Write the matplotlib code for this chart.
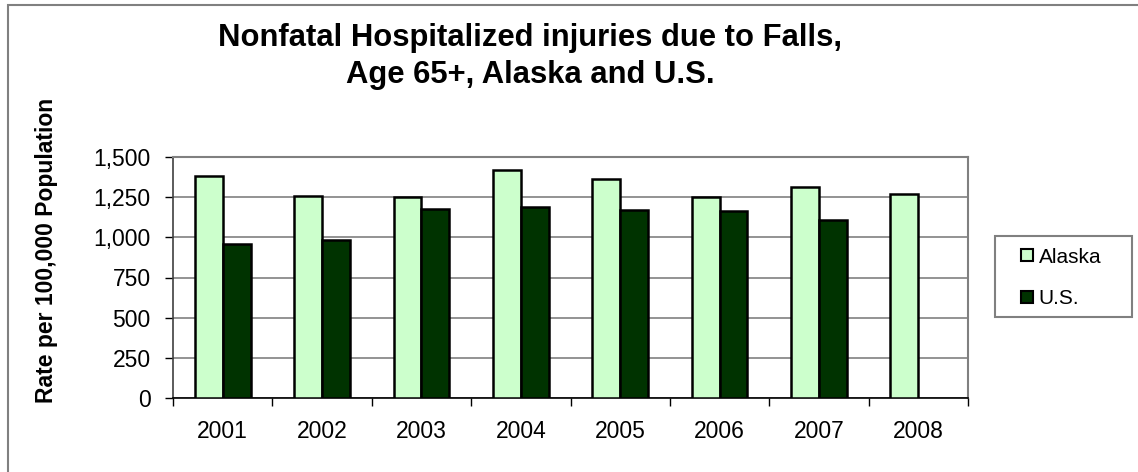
import matplotlib
matplotlib.use("Agg")
import matplotlib.pyplot as plt
from matplotlib.patches import Rectangle
from matplotlib.lines import Line2D
import numpy as np

years = ["2001", "2002", "2003", "2004", "2005", "2006", "2007", "2008"]
alaska = [1380, 1259, 1252, 1418, 1364, 1254, 1314, 1271]
us = [960, 986, 1176, 1190, 1172, 1161, 1108, np.nan]
y_ticks = [0, 250, 500, 750, 1000, 1250, 1500]
y_ticklabels = ["0", "250", "500", "750", "1,000", "1,250", "1,500"]

plt.rcParams['font.family'] = ['Liberation Sans', 'DejaVu Sans']

W, H = 1138, 472
fig = plt.figure(figsize=(W / 100, H / 100), dpi=100)
fig.patch.set_facecolor('white')

# outer chart border (top and left visible)
fig.patches.append(Rectangle((8 / W, -0.1), 1.2, (H - 5) / H + 0.1,
                             transform=fig.transFigure, fill=False,
                             edgecolor='#808080', linewidth=1.5))

L, R, T, B = 173, 968, 157, 398
ax = fig.add_axes([L / W, 1 - B / H, (R - L) / W, (B - T) / H])

x = np.arange(len(years))
bw = 0.28
ax.bar(x - bw / 2, alaska, width=bw, color='#CCFFCC', edgecolor='black',
       linewidth=1.8, zorder=3, label='Alaska')
ax.bar(x + bw / 2, us, width=bw, color='#003300', edgecolor='black',
       linewidth=1.8, zorder=3, label='U.S.')

ax.set_xlim(-0.5, len(years) - 0.5)
ax.set_ylim(0, 1500)
ax.set_yticks(y_ticks)
ax.set_yticklabels(y_ticklabels, fontsize=16.5)
ax.yaxis.grid(True, color='#808080', linewidth=1.2, zorder=0)
ax.set_axisbelow(True)

ax.set_xticks(np.arange(-0.5, len(years) + 0.5, 1.0))
ax.set_xticklabels([])
ax.set_xticks(x, minor=True)
ax.set_xticklabels(years, minor=True, fontsize=16.5)
ax.tick_params(axis='x', which='minor', length=0, pad=16)
ax.tick_params(axis='x', which='major', length=6, width=1, color='black')
ax.tick_params(axis='y', length=6, width=1, color='black', pad=10)

for s in ['top', 'right']:
    ax.spines[s].set_color('#808080')
    ax.spines[s].set_linewidth(1.5)
ax.spines['left'].set_color('#404040')
ax.spines['bottom'].set_color('black')
ax.spines['left'].set_linewidth(1.2)
ax.spines['bottom'].set_linewidth(1.2)

ax.set_ylabel("Rate per 100,000 Population", fontsize=16.5, fontweight='bold')
ax.yaxis.set_label_coords((46 - L) / (R - L), (B - 250) / (B - T))
ax.yaxis.label.set_va('center')

fig.text(530 / W, 1 - 38 / H, "Nonfatal Hospitalized injuries due to Falls,",
         ha='center', va='center', fontsize=22.3, fontweight='bold')
fig.text(530 / W, 1 - 75 / H, "Age 65+, Alaska and U.S.",
         ha='center', va='center', fontsize=22.3, fontweight='bold')

# legend box
fig.patches.append(Rectangle((995 / W, 1 - 317 / H), (1132 - 995) / W, (317 - 236) / H,
                             transform=fig.transFigure, fill=False,
                             edgecolor='#808080', linewidth=1.5))
handles = [Line2D([], [], linestyle='none', marker='s', markersize=8.5,
                  markerfacecolor='#CCFFCC', markeredgecolor='black', markeredgewidth=1.5),
           Line2D([], [], linestyle='none', marker='s', markersize=8.5,
                  markerfacecolor='#003300', markeredgecolor='black', markeredgewidth=1.5)]
fig.legend(handles, ['Alaska', 'U.S.'], loc='center left',
           bbox_to_anchor=(1019 / W, 1 - 278 / H), frameon=False,
           fontsize=15, handlelength=0.8, handletextpad=0.15,
           labelspacing=1.1, borderpad=0, borderaxespad=0)

fig.savefig("out.png", dpi=100, facecolor='white')
